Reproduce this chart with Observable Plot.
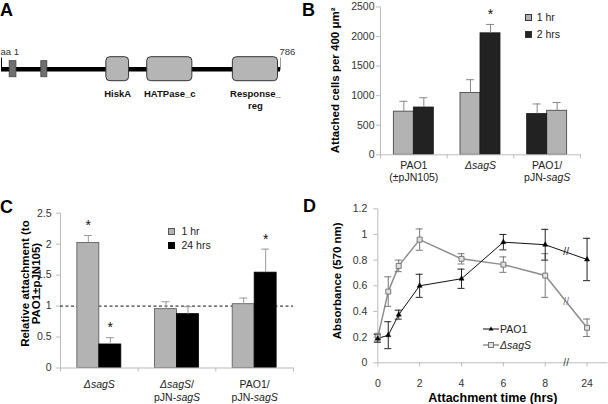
<!DOCTYPE html>
<html><head><meta charset="utf-8">
<script src="https://cdn.jsdelivr.net/npm/d3@7"></script>
<script src="https://cdn.jsdelivr.net/npm/@observablehq/plot@0.6"></script>
<style>
body{margin:0;background:#fff;}
#fig{position:relative;width:608px;height:404px;overflow:hidden;background:#fff;font-family:"Liberation Sans",Arial,Helvetica,sans-serif;color:#222;}
.panel{position:absolute;}
.letter{position:absolute;font-weight:bold;font-size:18px;line-height:18px;color:#000;}
.leg{position:absolute;font-size:10.5px;line-height:12px;height:12px;display:flex;align-items:center;white-space:nowrap;color:#222;}
.sw{display:inline-block;box-sizing:border-box;width:7px;height:7px;border:1px solid #333;}
</style></head><body><div id="fig"></div>
<script>
// ---------- Panel A : SagS domain architecture ----------
const proteinLength = 786;
const tmStart = [24, 113];
const tmEnd = [43, 130];
const domainNames = ["HiskA", "HATPase_c", "Response_\nreg"];
const domainStart = [296, 411, 652];
const domainEnd = [360, 538, 779];

// ---------- Panel B ----------
const groupsB = ["PAO1\n(±pJN105)", "ΔsagS", "PAO1/\npJN-sagS"];
const seriesB = ["1 hr", "2 hrs"];
const valuesB_1hr = [730, 1045, 745];
const errorsB_1hr = [175, 225, 140];
const valuesB_2hrs = [800, 2055, 690];
const errorsB_2hrs = [165, 150, 170];
const sigB_1hr = [false, false, false];
const sigB_2hrs = [false, true, false];
const barOrderB = [["1 hr", "2 hrs"], ["1 hr", "2 hrs"], ["2 hrs", "1 hr"]];
const yTicksB = [0, 500, 1000, 1500, 2000, 2500];
const titleB = "Attached cells per 400 μm²";

// ---------- Panel C ----------
const groupsC = ["ΔsagS", "ΔsagS/\npJN-sagS", "PAO1/\npJN-sagS"];
const seriesC = ["1 hr", "24 hrs"];
const valuesC_1hr = [2.02, 0.95, 1.03];
const errorsC_1hr = [0.12, 0.12, 0.10];
const valuesC_24hrs = [0.38, 0.87, 1.54];
const errorsC_24hrs = [0.11, 0.12, 0.38];
const sigC_1hr = [true, false, false];
const sigC_24hrs = [true, false, true];
const barOrderC = [["1 hr", "24 hrs"], ["1 hr", "24 hrs"], ["1 hr", "24 hrs"]];
const referenceC = [1];
const yTicksC = [0, 0.5, 1, 1.5, 2, 2.5];
const titleC = "Relative attachment (to\nPAO1±pJN105)";

// ---------- Panel D ----------
const timesD = [0, 0.5, 1, 2, 4, 6, 8, 24];
const pao1D = [0.19, 0.215, 0.375, 0.60, 0.655, 0.94, 0.92, 0.805];
const pao1ErrD = [0.03, 0.105, 0.035, 0.09, 0.075, 0.06, 0.12, 0.165];
const sagSD = [0.20, 0.555, 0.755, 0.96, 0.81, 0.765, 0.68, 0.273];
const sagSErrD = [0.03, 0.115, 0.045, 0.083, 0.04, 0.06, 0.17, 0.068];
const xTickValuesD = [0, 2, 4, 6, 8, 24];
const yTicksD = [0, 0.2, 0.4, 0.6, 0.8, 1, 1.2];
const brokenAfterD = 8;
const titleDx = "Attachment time (hrs)";
const titleDy = "Absorbance (570 nm)";

// ---------- helpers ----------
const fig = document.getElementById("fig");
const FONT = "'Liberation Sans', Arial, Helvetica, sans-serif";
const baseStyle = `font-family:${FONT};font-size:10.5px;background:transparent;overflow:visible;color:#222;`;

function place(node, left, top) {
  const d = document.createElement("div");
  d.className = "panel";
  d.style.left = left + "px";
  d.style.top = top + "px";
  d.appendChild(node);
  fig.appendChild(d);
}
function addHTML(html) { fig.insertAdjacentHTML("beforeend", html); }

function italicize(svg) {
  const walker = document.createTreeWalker(svg, NodeFilter.SHOW_TEXT);
  const nodes = [];
  while (walker.nextNode()) if (/sagS/.test(walker.currentNode.nodeValue)) nodes.push(walker.currentNode);
  for (const node of nodes) {
    const parts = node.nodeValue.split(/(Δ?sagS)/);
    const frag = document.createDocumentFragment();
    for (const p of parts) {
      if (!p) continue;
      if (/sagS/.test(p)) {
        const t = document.createElementNS("http://www.w3.org/2000/svg", "tspan");
        t.setAttribute("font-style", "italic");
        t.textContent = p;
        frag.appendChild(t);
      } else frag.appendChild(document.createTextNode(p));
    }
    node.parentNode.replaceChild(frag, node);
  }
}

function buildBars(groups, series, vals, errs, sigs, order) {
  const rows = [];
  groups.forEach((g, gi) => {
    order[gi].forEach((s, slot) => {
      const si = series.indexOf(s);
      rows.push({g: gi, slot, series: s, value: vals[si][gi], err: errs[si][gi], sig: sigs[si][gi]});
    });
  });
  return rows;
}

function barPanel(cfg) {
  const {rows, groups, bw, yDomain, yTicks, fills, strokes, errColor, width, height,
         mL, mR, mT, mB, tickPadding, title, tDx, tDy, tLineHeight, catDy, catFontSize, reference} = cfg;
  const center = d => d.g + 0.5 + (d.slot - 0.5) * bw;
  const top = d => d.value + d.err;
  const marks = [
    Plot.ruleX([0], {stroke: "#bbb"}),
    Plot.axisY({ticks: yTicks, tickFormat: d => String(d), tickSize: 4, tickPadding, stroke: "#bbb", fill: "#333"}),
    Plot.axisX({ticks: d3.range(groups.length + 1), tickFormat: () => "", tickSize: 4, stroke: "#bbb"})
  ];
  if (reference) marks.push(Plot.ruleY(reference, {stroke: "#111", strokeDasharray: "3,2.5"}));
  for (const s of Object.keys(fills)) {
    marks.push(Plot.rect(rows.filter(d => d.series === s), {
      x1: d => d.g + 0.5 + (d.slot - 1) * bw, x2: d => d.g + 0.5 + d.slot * bw,
      y1: 0, y2: "value", fill: fills[s], stroke: strokes[s], strokeWidth: 0.8
    }));
  }
  marks.push(
    Plot.ruleY([0], {stroke: "#bbb"}),
    Plot.ruleX(rows, {x: center, y1: "value", y2: top, stroke: errColor}),
    Plot.ruleY(rows, {x1: center, x2: center, y: top, insetLeft: -4, insetRight: -4, stroke: errColor}),
    Plot.text(rows.filter(d => d.sig), {x: center, y: top, text: () => "*", dy: -10, lineAnchor: "middle", fontSize: 14, fill: "#111"}),
    Plot.text(groups, {x: (d, i) => i + 0.5, text: d => d, frameAnchor: "bottom", textAnchor: "middle",
                       lineAnchor: "top", dy: catDy, lineHeight: 1.2, fontSize: catFontSize, fill: "#222"}),
    Plot.text([title], {text: d => d, frameAnchor: "left", rotate: -90, textAnchor: "middle", lineAnchor: "middle",
                        dx: tDx, dy: tDy, fontWeight: "bold", fontSize: 11.5, lineHeight: tLineHeight, fill: "#000"})
  );
  const svg = Plot.plot({
    width, height, marginLeft: mL, marginRight: mR, marginTop: mT, marginBottom: mB,
    style: baseStyle,
    x: {domain: [0, groups.length], label: null},
    y: {domain: yDomain, label: null},
    marks
  });
  italicize(svg);
  return svg;
}

// ---------- Panel A ----------
const tmRows = tmStart.map((s, i) => ({start: s, end: tmEnd[i]}));
const domRows = domainNames.map((n, i) => ({name: n, start: domainStart[i], end: domainEnd[i]}));
const plotA = Plot.plot({
  width: 300, height: 190, marginLeft: 1, marginRight: 20, marginTop: 56.7, marginBottom: 109.3,
  style: baseStyle,
  x: {domain: [1, proteinLength], axis: null, label: null},
  y: {domain: [-1, 1], axis: null, label: null},
  marks: [
    Plot.ruleY([0], {x1: 1, x2: proteinLength, stroke: "#000", strokeWidth: 4.5}),
    Plot.ruleX([1], {y1: -0.1, y2: 0.93, stroke: "#000", strokeWidth: 1}),
    Plot.ruleX([proteinLength], {y1: -0.1, y2: 0.93, stroke: "#999", strokeWidth: 1}),
    Plot.rect(tmRows, {x1: "start", x2: "end", y1: -0.67, y2: 0.67, fill: "#707070", stroke: "#444", strokeWidth: 0.8}),
    Plot.rect(domRows, {x1: "start", x2: "end", y1: -1, y2: 1, rx: 4, fill: "#b5b5b5", stroke: "#333", strokeWidth: 1}),
    Plot.text(domRows, {x: d => (d.start + d.end) / 2, y: -1, text: "name", lineAnchor: "top", dy: 7.6,
                        fontWeight: "bold", fontSize: 9.5, lineHeight: 1.25, fill: "#111"}),
    Plot.text(["aa 1"], {x: 1, y: 0, text: d => d, textAnchor: "start", lineAnchor: "middle", dx: -1, dy: -17, fontSize: 9.5, fill: "#333"}),
    Plot.text([String(proteinLength)], {x: proteinLength, y: 0, text: d => d, textAnchor: "start", lineAnchor: "middle", dx: -1, dy: -17.5, fontSize: 9.5, fill: "#333"})
  ]
});
place(plotA, 0, 0);

// ---------- Panel B ----------
const rowsB = buildBars(groupsB, seriesB, [valuesB_1hr, valuesB_2hrs], [errorsB_1hr, errorsB_2hrs], [sigB_1hr, sigB_2hrs], barOrderB);
place(barPanel({
  rows: rowsB, groups: groupsB, bw: 0.3, yDomain: [0, 2500], yTicks: yTicksB,
  fills: {"1 hr": "#b3b3b3", "2 hrs": "#222"}, strokes: {"1 hr": "#3a3a3a", "2 hrs": "#1a1a1a"}, errColor: "#888",
  width: 308, height: 190, mL: 80, mR: 28, mT: 6.5, mB: 35.7, tickPadding: 2,
  title: titleB, tDx: -45, tDy: -0.5, tLineHeight: 1, catDy: 5, catFontSize: 10.5
}), 300, 0);

// ---------- Panel C ----------
const rowsC = buildBars(groupsC, seriesC, [valuesC_1hr, valuesC_24hrs], [errorsC_1hr, errorsC_24hrs], [sigC_1hr, sigC_24hrs], barOrderC);
place(barPanel({
  rows: rowsC, groups: groupsC, bw: 0.283, yDomain: [0, 2.5], yTicks: yTicksC,
  fills: {"1 hr": "#b3b3b3", "24 hrs": "#000"}, strokes: {"1 hr": "#555", "24 hrs": "#000"}, errColor: "#999",
  width: 300, height: 214, mL: 60, mR: 7, mT: 22.7, mB: 36.5, tickPadding: 5,
  title: titleC, tDx: -29.5, tDy: -7, tLineHeight: 1, catDy: 11, catFontSize: 10.5, reference: referenceC
}), 0, 190);

// ---------- Panel D ----------
const posD = t => t > brokenAfterD ? brokenAfterD + 2 : t;
const rowsOf = (vals, errs) => timesD.map((t, i) => ({pos: posD(t), v: vals[i], e: errs[i]}));
const pRows = rowsOf(pao1D, pao1ErrD);
const sRows = rowsOf(sagSD, sagSErrD);
const xTickPos = xTickValuesD.map(posD);
const breakPos = brokenAfterD + 1;
const breakRow = rows => {
  const a = rows.find(d => d.pos === brokenAfterD), b = rows.find(d => d.pos === brokenAfterD + 2);
  return [{pos: breakPos, v: (a.v + b.v) / 2}];
};
const errMarks = (rows, color) => [
  Plot.ruleX(rows, {x: "pos", y1: d => d.v - d.e, y2: d => d.v + d.e, stroke: color}),
  Plot.ruleY(rows, {x1: "pos", x2: "pos", y: d => d.v + d.e, insetLeft: -3.5, insetRight: -3.5, stroke: color}),
  Plot.ruleY(rows, {x1: "pos", x2: "pos", y: d => d.v - d.e, insetLeft: -3.5, insetRight: -3.5, stroke: color})
];
const plotD = Plot.plot({
  width: 308, height: 214, marginLeft: 77.3, marginRight: 0.5, marginTop: 18.3, marginBottom: 41.7,
  style: baseStyle,
  x: {domain: [0, brokenAfterD + 3], label: null},
  y: {domain: [0, 1.2], label: null},
  marks: [
    Plot.ruleY([0], {stroke: "#bbb"}),
    Plot.ruleX([0], {stroke: "#bbb"}),
    Plot.axisY({ticks: yTicksD, tickFormat: d => String(d), tickSize: 4, tickPadding: 6.5, stroke: "#bbb", fill: "#333"}),
    Plot.axisX({ticks: xTickPos, tickFormat: d => String(xTickValuesD[xTickPos.indexOf(d)]), tickSize: 4, tickPadding: 12.6, stroke: "#bbb", fill: "#333"}),
    Plot.text(["//"], {x: breakPos, frameAnchor: "bottom", text: d => d, lineAnchor: "middle", fontSize: 10, fill: "#333"}),
    Plot.line(sRows, {x: "pos", y: "v", stroke: "#8c8c8c", strokeWidth: 1.5}),
    ...errMarks(sRows, "#777"),
    Plot.line(pRows, {x: "pos", y: "v", stroke: "#111", strokeWidth: 1}),
    ...errMarks(pRows, "#222"),
    Plot.dot(sRows, {x: "pos", y: "v", symbol: "square", r: 2.8, fill: "#e2e2e2", stroke: "#777", strokeWidth: 1}),
    Plot.dot(pRows, {x: "pos", y: "v", symbol: "triangle", r: 1.9, fill: "#000", stroke: "#000", strokeWidth: 0.5}),
    Plot.text(breakRow(pRows), {x: "pos", y: "v", text: () => "//", lineAnchor: "middle", fontSize: 10, fill: "#111"}),
    Plot.text(breakRow(sRows), {x: "pos", y: "v", text: () => "//", lineAnchor: "middle", fontSize: 10, fill: "#777"}),
    Plot.text([titleDx], {text: d => d, frameAnchor: "bottom", textAnchor: "middle", lineAnchor: "middle", dy: 34.7, fontWeight: "bold", fontSize: 12.5, fill: "#000"}),
    Plot.text([titleDy], {text: d => d, frameAnchor: "left", rotate: -90, textAnchor: "middle", lineAnchor: "middle", dx: -40.6, dy: -5, fontWeight: "bold", fontSize: 11.5, fill: "#000"})
  ]
});
place(plotD, 300, 190);

// ---------- panel letters & legends ----------
addHTML(`<div class="letter" style="left:0px;top:1px">A</div>`);
addHTML(`<div class="letter" style="left:302px;top:1px">B</div>`);
addHTML(`<div class="letter" style="left:0px;top:197.7px">C</div>`);
addHTML(`<div class="letter" style="left:303px;top:196.7px">D</div>`);

addHTML(`<div class="leg" style="left:525px;top:11.3px"><span class="sw" style="background:#b3b3b3"></span><span style="margin-left:4.7px">${seriesB[0]}</span></div>`);
addHTML(`<div class="leg" style="left:525px;top:28.3px"><span class="sw" style="background:#222"></span><span style="margin-left:4.7px">${seriesB[1]}</span></div>`);

addHTML(`<div class="leg" style="left:168px;top:225px"><span class="sw" style="background:#b3b3b3;border-color:#555"></span><span style="margin-left:6.5px">${seriesC[0]}</span></div>`);
addHTML(`<div class="leg" style="left:168px;top:239px"><span class="sw" style="background:#000;border-color:#000"></span><span style="margin-left:6.5px">${seriesC[1]}</span></div>`);

addHTML(`<div class="leg" style="left:483px;top:323.3px"><svg width="16" height="12"><line x1="0" y1="6" x2="16" y2="6" stroke="#111"/><path d="M8,3.4 L10.4,7.6 L5.6,7.6Z" fill="#000"/></svg><span style="margin-left:1px">PAO1</span></div>`);
addHTML(`<div class="leg" style="left:483px;top:339px"><svg width="16" height="12"><line x1="0" y1="6" x2="16" y2="6" stroke="#8c8c8c" stroke-width="1.5"/><rect x="5.5" y="3.5" width="5" height="5" fill="#e2e2e2" stroke="#777"/></svg><span style="margin-left:1px"><i>ΔsagS</i></span></div>`);
</script></body></html>
